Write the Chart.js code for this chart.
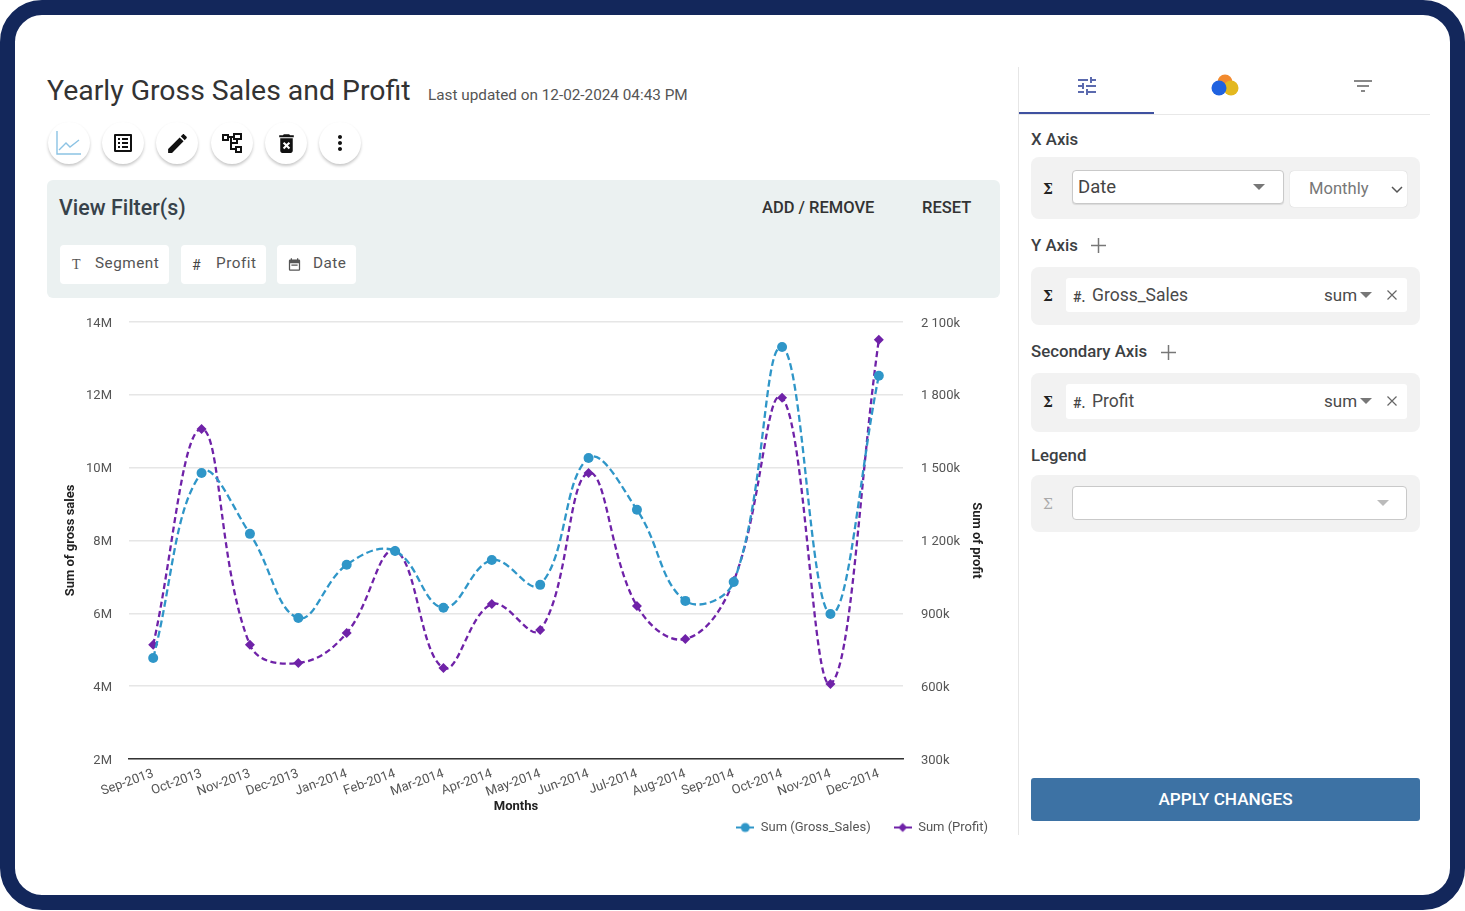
<!DOCTYPE html>
<html><head><meta charset="utf-8"><title>Yearly Gross Sales and Profit</title>
<script src="https://cdn.jsdelivr.net/npm/chart.js@4"></script>
<style>
html,body{margin:0;padding:0;background:#fff;width:1465px;height:911px;overflow:hidden;font-family:Roboto,sans-serif}
#frame{position:absolute;left:0;top:0;width:1465px;height:910px;box-sizing:border-box;border:15px solid #13275b;border-radius:42px;background:#fff}
.a{position:absolute;white-space:nowrap;line-height:1}
.btn{position:absolute;top:122px;width:42px;height:42px;border-radius:50%;background:#fff;box-shadow:0 2px 3px rgba(0,0,0,.22);display:flex;align-items:center;justify-content:center}
.chip{position:absolute;top:245px;height:39px;background:#fff;border-radius:4px}
.panel{position:absolute;left:1031px;width:389px;background:#f2f2f2;border-radius:8px}
.white{position:absolute;left:1066px;width:341px;background:#fff;border-radius:3px}
.lab{font-size:16.8px;font-weight:500;color:#3c4043;left:1031px}
.sig{font-family:"DejaVu Serif",serif;font-weight:700;font-size:14px;color:#222}
.txt{font-size:17px;color:#4a4a4a}
.tri{position:absolute;width:0;height:0;border-left:6px solid transparent;border-right:6px solid transparent;border-top:6px solid #777}
#cv{position:absolute;left:47px;top:296px}
</style></head><body>
<div id="frame"></div>

<div class="a" style="left:47px;top:77px;font-size:28.4px;color:#333">Yearly Gross Sales and Profit</div>
<div class="a" style="left:428px;top:88px;font-size:15.3px;color:#555">Last updated on 12-02-2024 04:43 PM</div>

<div class="btn" style="left:48px"><svg width="28" height="28" viewBox="0 0 28 28" fill="none" stroke="#8cc3e4" stroke-width="1.4"><path d="M2 2V25H26"/><path d="M4 21L11 14L15 18L24 11"/></svg></div>
<div class="btn" style="left:102px"><svg width="24" height="24" viewBox="0 0 24 24" fill="#111"><path d="M19 5v14H5V5h14m1.1-2H3.9c-.5 0-.9.4-.9.9v16.2c0 .4.4.9.9.9h16.2c.4 0 .9-.5.9-.9V3.9c0-.5-.5-.9-.9-.9zM11 7h6v2h-6V7zm0 4h6v2h-6v-2zm0 4h6v2h-6zM7 7h2v2H7zm0 4h2v2H7zm0 4h2v2H7z"/></svg></div>
<div class="btn" style="left:156px"><svg width="25" height="25" viewBox="0 0 24 24" fill="#111"><path d="M3 17.25V21h3.75L17.81 9.94l-3.75-3.75L3 17.25zM20.71 7.04c.39-.39.39-1.02 0-1.41l-2.34-2.34c-.39-.39-1.02-.39-1.41 0l-1.83 1.83 3.75 3.75 1.83-1.83z"/></svg></div>
<div class="btn" style="left:211px"><svg width="24" height="24" viewBox="0 0 24 24" fill="none" stroke="#111" stroke-width="2"><path d="M3 4h5v5H3zM14 3h7v5h-7zM16 16h5v5h-5zM8 6h6M11 6v12h5M12 12h5v-4"/></svg></div>
<div class="btn" style="left:265px"><svg width="25" height="25" viewBox="0 0 24 24" fill="#111"><path d="M6 19c0 1.1.9 2 2 2h8c1.1 0 2-.9 2-2V7H6v12zm2.46-7.12l1.41-1.41L12 12.59l2.12-2.12 1.41 1.41L13.41 14l2.12 2.12-1.41 1.41L12 15.41l-2.12 2.12-1.41-1.41L10.59 14l-2.13-2.12zM15.5 4l-1-1h-5l-1 1H5v2h14V4z"/></svg></div>
<div class="btn" style="left:319px"><svg width="24" height="24" viewBox="0 0 24 24" fill="#111"><path d="M12 8c1.1 0 2-.9 2-2s-.9-2-2-2-2 .9-2 2 .9 2 2 2zm0 2c-1.1 0-2 .9-2 2s.9 2 2 2 2-.9 2-2-.9-2-2-2zm0 6c-1.1 0-2 .9-2 2s.9 2 2 2 2-.9 2-2-.9-2-2-2z"/></svg></div>

<div class="a" style="left:47px;top:180px;width:953px;height:118px;background:#ebf1f1;border-radius:6px"></div>
<div class="a" style="left:59px;top:197px;font-size:21.4px;font-weight:500;color:#37424a">View Filter(s)</div>
<div class="a" style="left:762px;top:200px;font-size:16.5px;font-weight:500;color:#333">ADD / REMOVE</div>
<div class="a" style="left:922px;top:200px;font-size:16.5px;font-weight:500;color:#333">RESET</div>
<div class="chip" style="left:60px;width:109px"></div>
<div class="chip" style="left:181px;width:85px"></div>
<div class="chip" style="left:277px;width:79px"></div>
<div class="a" style="left:72px;top:258px;font-size:14px;color:#555;font-family:'Liberation Serif',serif">T</div>
<div class="a" style="left:95px;top:256px;font-size:15.3px;letter-spacing:.5px;color:#555">Segment</div>
<div class="a" style="left:192px;top:258px;font-size:14px;color:#444">#</div>
<div class="a" style="left:216px;top:256px;font-size:15.3px;letter-spacing:.5px;color:#555">Profit</div>
<svg class="a" style="left:287px;top:257px" width="15" height="15" viewBox="0 0 24 24" fill="#555"><path d="M19 4h-1V2h-2v2H8V2H6v2H5a2 2 0 0 0-2 2v14a2 2 0 0 0 2 2h14a2 2 0 0 0 2-2V6a2 2 0 0 0-2-2zm0 16H5V10h14v10zM7 12h10v2H7z"/></svg>
<div class="a" style="left:313px;top:256px;font-size:15.3px;letter-spacing:.5px;color:#555">Date</div>

<canvas id="cv" width="964" height="548" style="width:964px;height:548px"></canvas>

<div class="a" style="left:1018px;top:67px;width:1px;height:768px;background:#e6e6e6"></div>
<div class="a" style="left:1019px;top:114px;width:411px;height:1px;background:#e8e8e8"></div>
<div class="a" style="left:1019px;top:112px;width:135px;height:2px;background:#3f51a0"></div>
<svg class="a" style="left:1075px;top:74px" width="24" height="24" viewBox="0 0 24 24" fill="#3f51a0" opacity=".85"><path d="M3 17v2h6v-2H3zM3 5v2h10V5H3zm10 16v-2h8v-2h-8v-2h-2v6h2zM7 9v2H3v2h4v2h2V9H7zm14 4v-2H11v2h10zm-6-4h2V7h4V5h-4V3h-2v6z"/></svg>
<svg class="a" style="left:1211px;top:73px" width="28" height="26" viewBox="0 0 28 26"><circle cx="14" cy="9" r="7.5" fill="#f28a2e"/><circle cx="20" cy="15" r="7.5" fill="#e3b81f"/><circle cx="8" cy="15" r="7.5" fill="#1f62e0"/></svg>
<svg class="a" style="left:1351px;top:74px" width="24" height="24" viewBox="0 0 24 24" fill="#888"><path d="M10 18h4v-2h-4v2zM3 6v2h18V6H3zm3 7h12v-2H6v2z"/></svg>

<div class="a lab" style="top:131px">X Axis</div>
<div class="panel" style="top:157px;height:62px"></div>
<div class="a sig" style="left:1043px;top:182px">Σ</div>
<div class="a" style="left:1072px;top:170px;width:210px;height:32px;background:#fff;border:1px solid #c9c9c9;border-radius:4px;box-shadow:0 1px 1px rgba(0,0,0,.1)"></div>
<div class="a" style="left:1078px;top:178px;font-size:18.5px;color:#444">Date</div>
<div class="tri" style="left:1253px;top:184px"></div>
<div class="a" style="left:1290px;top:171px;width:117px;height:36px;background:#fff;border-radius:4px;box-shadow:0 0 1px rgba(0,0,0,.25)"></div>
<div class="a" style="left:1309px;top:181px;font-size:16.6px;color:#777">Monthly</div>
<svg class="a" style="left:1391px;top:186px" width="12" height="8" viewBox="0 0 12 8" fill="none" stroke="#555" stroke-width="1.5"><path d="M1 1l5 5 5-5"/></svg>

<div class="a lab" style="top:237px">Y Axis</div>
<div class="a" style="left:1091px;top:238px"><svg width="15" height="15" viewBox="0 0 15 15" stroke="#777" stroke-width="1.5"><path d="M7.5 0v15M0 7.5h15"/></svg></div>
<div class="panel" style="top:267px;height:58px"></div>
<div class="a sig" style="left:1043px;top:289px">Σ</div>
<div class="white" style="top:278px;height:34px"></div>
<div class="a" style="left:1073px;top:290px;font-size:14px;font-weight:500;color:#444">#.</div>
<div class="a txt" style="left:1092px;top:287px;font-size:17.5px">Gross_Sales</div>
<div class="a txt" style="left:1324px;top:287px">sum</div>
<div class="tri" style="left:1360px;top:292px"></div>
<svg class="a" style="left:1387px;top:290px" width="10" height="10" viewBox="0 0 10 10" stroke="#666" stroke-width="1.2"><path d="M.5.5l9 9M9.5.5l-9 9"/></svg>

<div class="a lab" style="top:343px">Secondary Axis</div>
<div class="a" style="left:1161px;top:345px"><svg width="15" height="15" viewBox="0 0 15 15" stroke="#777" stroke-width="1.5"><path d="M7.5 0v15M0 7.5h15"/></svg></div>
<div class="panel" style="top:373px;height:59px"></div>
<div class="a sig" style="left:1043px;top:395px">Σ</div>
<div class="white" style="top:384px;height:35px"></div>
<div class="a" style="left:1073px;top:396px;font-size:14px;font-weight:500;color:#444">#.</div>
<div class="a txt" style="left:1092px;top:393px;font-size:17.5px">Profit</div>
<div class="a txt" style="left:1324px;top:393px">sum</div>
<div class="tri" style="left:1360px;top:398px"></div>
<svg class="a" style="left:1387px;top:396px" width="10" height="10" viewBox="0 0 10 10" stroke="#666" stroke-width="1.2"><path d="M.5.5l9 9M9.5.5l-9 9"/></svg>

<div class="a lab" style="top:447px">Legend</div>
<div class="panel" style="top:475px;height:57px"></div>
<div class="a sig" style="left:1043px;top:497px;color:#aaa;font-weight:400">Σ</div>
<div class="a" style="left:1072px;top:486px;width:333px;height:32px;background:#fff;border:1px solid #c9c9c9;border-radius:4px"></div>
<div class="tri" style="left:1377px;top:500px;border-top-color:#bbb"></div>

<div class="a" style="left:1031px;top:778px;width:389px;height:43px;background:#3d72a4;border-radius:3px;color:#fff;font-size:17.2px;font-weight:500;text-align:center;line-height:43px">APPLY CHANGES</div>

<script>
const months = ['Sep-2013','Oct-2013','Nov-2013','Dec-2013','Jan-2014','Feb-2014','Mar-2014','Apr-2014','May-2014','Jun-2014','Jul-2014','Aug-2014','Sep-2014','Oct-2014','Nov-2014','Dec-2014'];
const grossSales = [4770000,9850000,8180000,5870000,7330000,7710000,6150000,7460000,6780000,10260000,8840000,6340000,6860000,13310000,5980000,12520000];
const profit = [770000,1659000,770000,695000,819000,1157000,675000,938000,831000,1478000,930000,794000,1033000,1787000,609000,2026000];
const grossTickLabels = ['2M','4M','6M','8M','10M','12M','14M'];
const profitTickLabels = ['300k','600k','900k','1 200k','1 500k','1 800k','2 100k'];
const seriesNames = ['Sum (Gross_Sales)','Sum (Profit)'];
const seriesColors = ['#2f96c8','#6f22a8'];

function legendMark(color, diamond){
  const c = document.createElement('canvas'); c.width = 18; c.height = 12;
  const x = c.getContext('2d');
  x.strokeStyle = color; x.fillStyle = color; x.lineWidth = 2;
  x.beginPath(); x.moveTo(0,6); x.lineTo(18,6); x.stroke();
  x.beginPath();
  if (diamond){ x.moveTo(9,1.5); x.lineTo(13.5,6); x.lineTo(9,10.5); x.lineTo(4.5,6); x.closePath(); }
  else x.arc(9,6,4.5,0,Math.PI*2);
  x.fill();
  return c;
}
const legendMarks = [legendMark(seriesColors[0],false), legendMark(seriesColors[1],true)];
const tickFont = {family:'Roboto', size:13};
const titleFont = {family:'Roboto', size:13, weight:'700'};

new Chart(document.getElementById('cv'), {
  type:'line',
  data:{labels:months, datasets:[
    {label:seriesNames[0], data:grossSales, yAxisID:'y', borderColor:seriesColors[0], backgroundColor:seriesColors[0], borderWidth:2.3, borderDash:[7,3.5], tension:.4, pointStyle:'circle', pointRadius:5, pointBorderWidth:0},
    {label:seriesNames[1], data:profit, yAxisID:'y1', borderColor:seriesColors[1], backgroundColor:seriesColors[1], borderWidth:2.3, borderDash:[6,3.5], tension:.4, pointStyle:'rectRot', pointRadius:5, pointBorderWidth:0}
  ]},
  options:{
    responsive:false, animation:false, maintainAspectRatio:false,
    layout:{padding:{top:16,right:0,left:0,bottom:0}},
    plugins:{
      tooltip:{enabled:false},
      legend:{position:'bottom',align:'end',labels:{
        usePointStyle:true,pointStyleWidth:18,padding:23,color:'#555',font:{family:'Roboto',size:13},
        generateLabels(ch){return ch.data.datasets.map((d,i)=>({text:d.label,datasetIndex:i,pointStyle:legendMarks[i],fontColor:'#555',lineWidth:0,strokeStyle:'transparent',fillStyle:'transparent'}));}
      }}
    },
    scales:{
      x:{
        offset:true,
        grid:{display:false,drawTicks:false,offset:true},
        border:{color:'#333',width:1.5},
        ticks:{autoSkip:false,minRotation:20,maxRotation:20,padding:7,color:'#555',font:tickFont},
        title:{display:true,text:'Months',color:'#222',font:titleFont,padding:{top:0,bottom:-17}},
        afterFit(s){s.height=39;}
      },
      y:{
        min:2000000,max:14000000,position:'left',
        grid:{color:'#e6e6e6',drawTicks:false,lineWidth:1.5},
        border:{display:false},
        ticks:{stepSize:2000000,padding:17,labelOffset:1.5,color:'#555',font:tickFont,callback:(v,i)=>grossTickLabels[i]},
        title:{display:true,text:'Sum of gross sales',color:'#222',font:titleFont,padding:{top:16,bottom:0}},
        afterFit(s){s.width=82;}
      },
      y1:{
        min:300000,max:2100000,position:'right',
        grid:{display:false,drawTicks:false},
        border:{display:false},
        ticks:{stepSize:300000,padding:18,labelOffset:1.5,color:'#555',font:tickFont,callback:(v,i)=>profitTickLabels[i]},
        title:{display:true,text:'Sum of profit',color:'#222',font:titleFont,padding:{top:27,bottom:0}},
        afterFit(s){s.width=108;}
      }
    }
  }
});
</script>
</body></html>
